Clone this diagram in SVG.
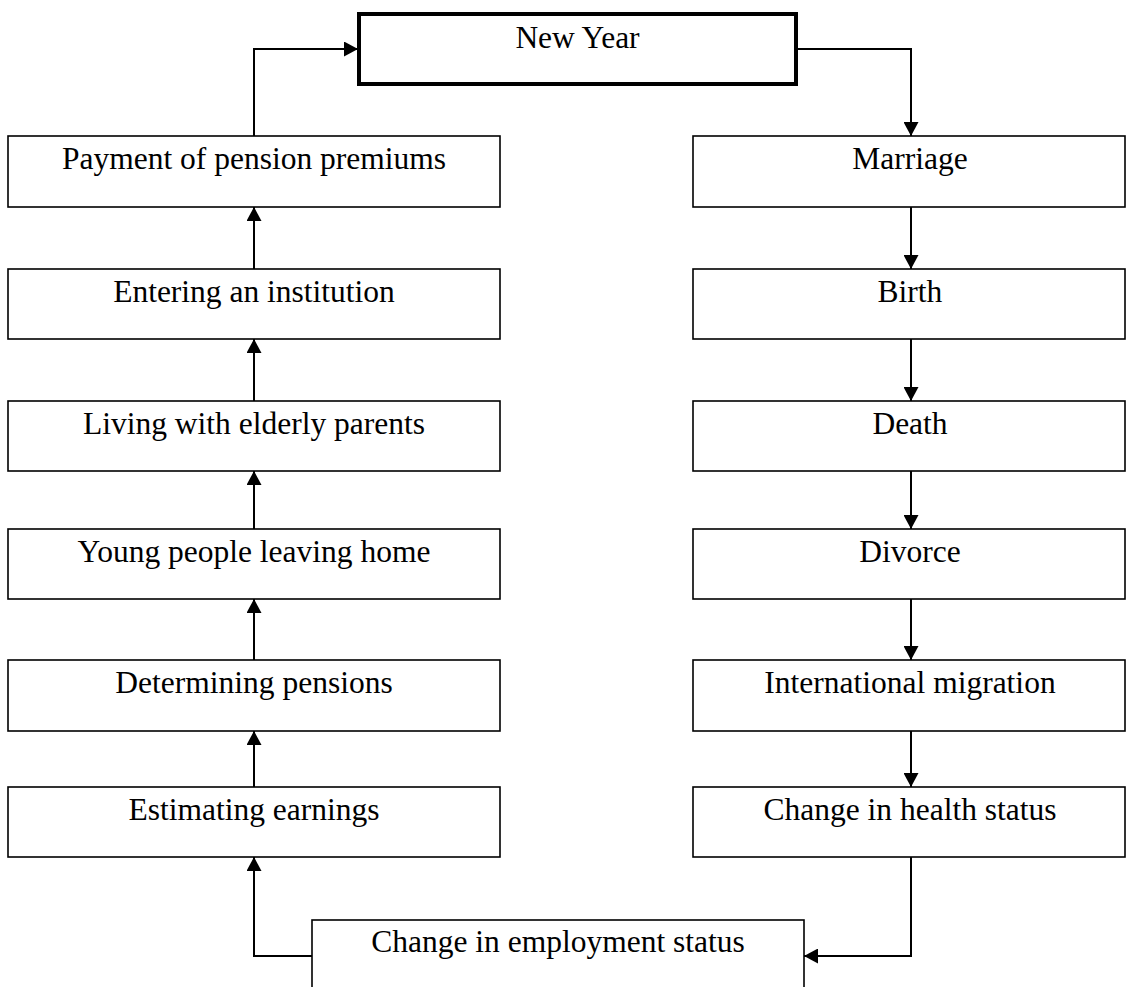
<svg xmlns="http://www.w3.org/2000/svg" width="1127" height="987" viewBox="0 0 1127 987">
<style>
.box{fill:#fff;stroke:#000;stroke-width:1.6}
.main{fill:#fff;stroke:#000;stroke-width:4}
.lbl{font-family:"Liberation Serif","Times New Roman",serif;font-size:31.5px;fill:#000;text-anchor:middle}
.con{fill:none;stroke:#000;stroke-width:2;marker-end:url(#arr)}
</style>
<defs>
<marker id="arr" markerUnits="userSpaceOnUse" markerWidth="15" markerHeight="15" refX="14" refY="7.5" orient="auto">
<path d="M0,0 L14,7.5 L0,15 z" fill="#000"/>
</marker>
</defs>
<rect width="1127" height="987" fill="#fff"/>
<g id="connectors">
<path class="con" d="M254,136 V49 H358"/>
<path class="con" d="M796,49 H911 V136"/>
<path class="con" d="M911,207 V269"/>
<path class="con" d="M911,339 V401"/>
<path class="con" d="M911,471 V529"/>
<path class="con" d="M911,599 V660"/>
<path class="con" d="M911,731 V787"/>
<path class="con" d="M911,857 V956 H804"/>
<path class="con" d="M312,956 H254 V857"/>
<path class="con" d="M254,787 V731"/>
<path class="con" d="M254,660 V599"/>
<path class="con" d="M254,529 V471"/>
<path class="con" d="M254,401 V339"/>
<path class="con" d="M254,269 V207"/>
</g>
<g id="new-year"><rect class="main" x="359" y="14" width="437" height="70"/><text class="lbl" x="577.5" y="48">New Year</text></g>
<g id="payment"><rect class="box" x="8" y="136" width="492" height="71"/><text class="lbl" x="254" y="169">Payment of pension premiums</text></g>
<g id="entering"><rect class="box" x="8" y="269" width="492" height="70"/><text class="lbl" x="254" y="302">Entering an institution</text></g>
<g id="living"><rect class="box" x="8" y="401" width="492" height="70"/><text class="lbl" x="254" y="434">Living with elderly parents</text></g>
<g id="young"><rect class="box" x="8" y="529" width="492" height="70"/><text class="lbl" x="254" y="562">Young people leaving home</text></g>
<g id="determining"><rect class="box" x="8" y="660" width="492" height="71"/><text class="lbl" x="254" y="693">Determining pensions</text></g>
<g id="estimating"><rect class="box" x="8" y="787" width="492" height="70"/><text class="lbl" x="254" y="820">Estimating earnings</text></g>
<g id="marriage"><rect class="box" x="693" y="136" width="432" height="71"/><text class="lbl" x="910" y="169">Marriage</text></g>
<g id="birth"><rect class="box" x="693" y="269" width="432" height="70"/><text class="lbl" x="910" y="302">Birth</text></g>
<g id="death"><rect class="box" x="693" y="401" width="432" height="70"/><text class="lbl" x="910" y="434">Death</text></g>
<g id="divorce"><rect class="box" x="693" y="529" width="432" height="70"/><text class="lbl" x="910" y="562">Divorce</text></g>
<g id="migration"><rect class="box" x="693" y="660" width="432" height="71"/><text class="lbl" x="910" y="693">International migration</text></g>
<g id="health"><rect class="box" x="693" y="787" width="432" height="70"/><text class="lbl" x="910" y="820">Change in health status</text></g>
<g id="employment"><rect class="box" x="312" y="920" width="492" height="80"/><text class="lbl" x="558" y="952">Change in employment status</text></g>
</svg>
